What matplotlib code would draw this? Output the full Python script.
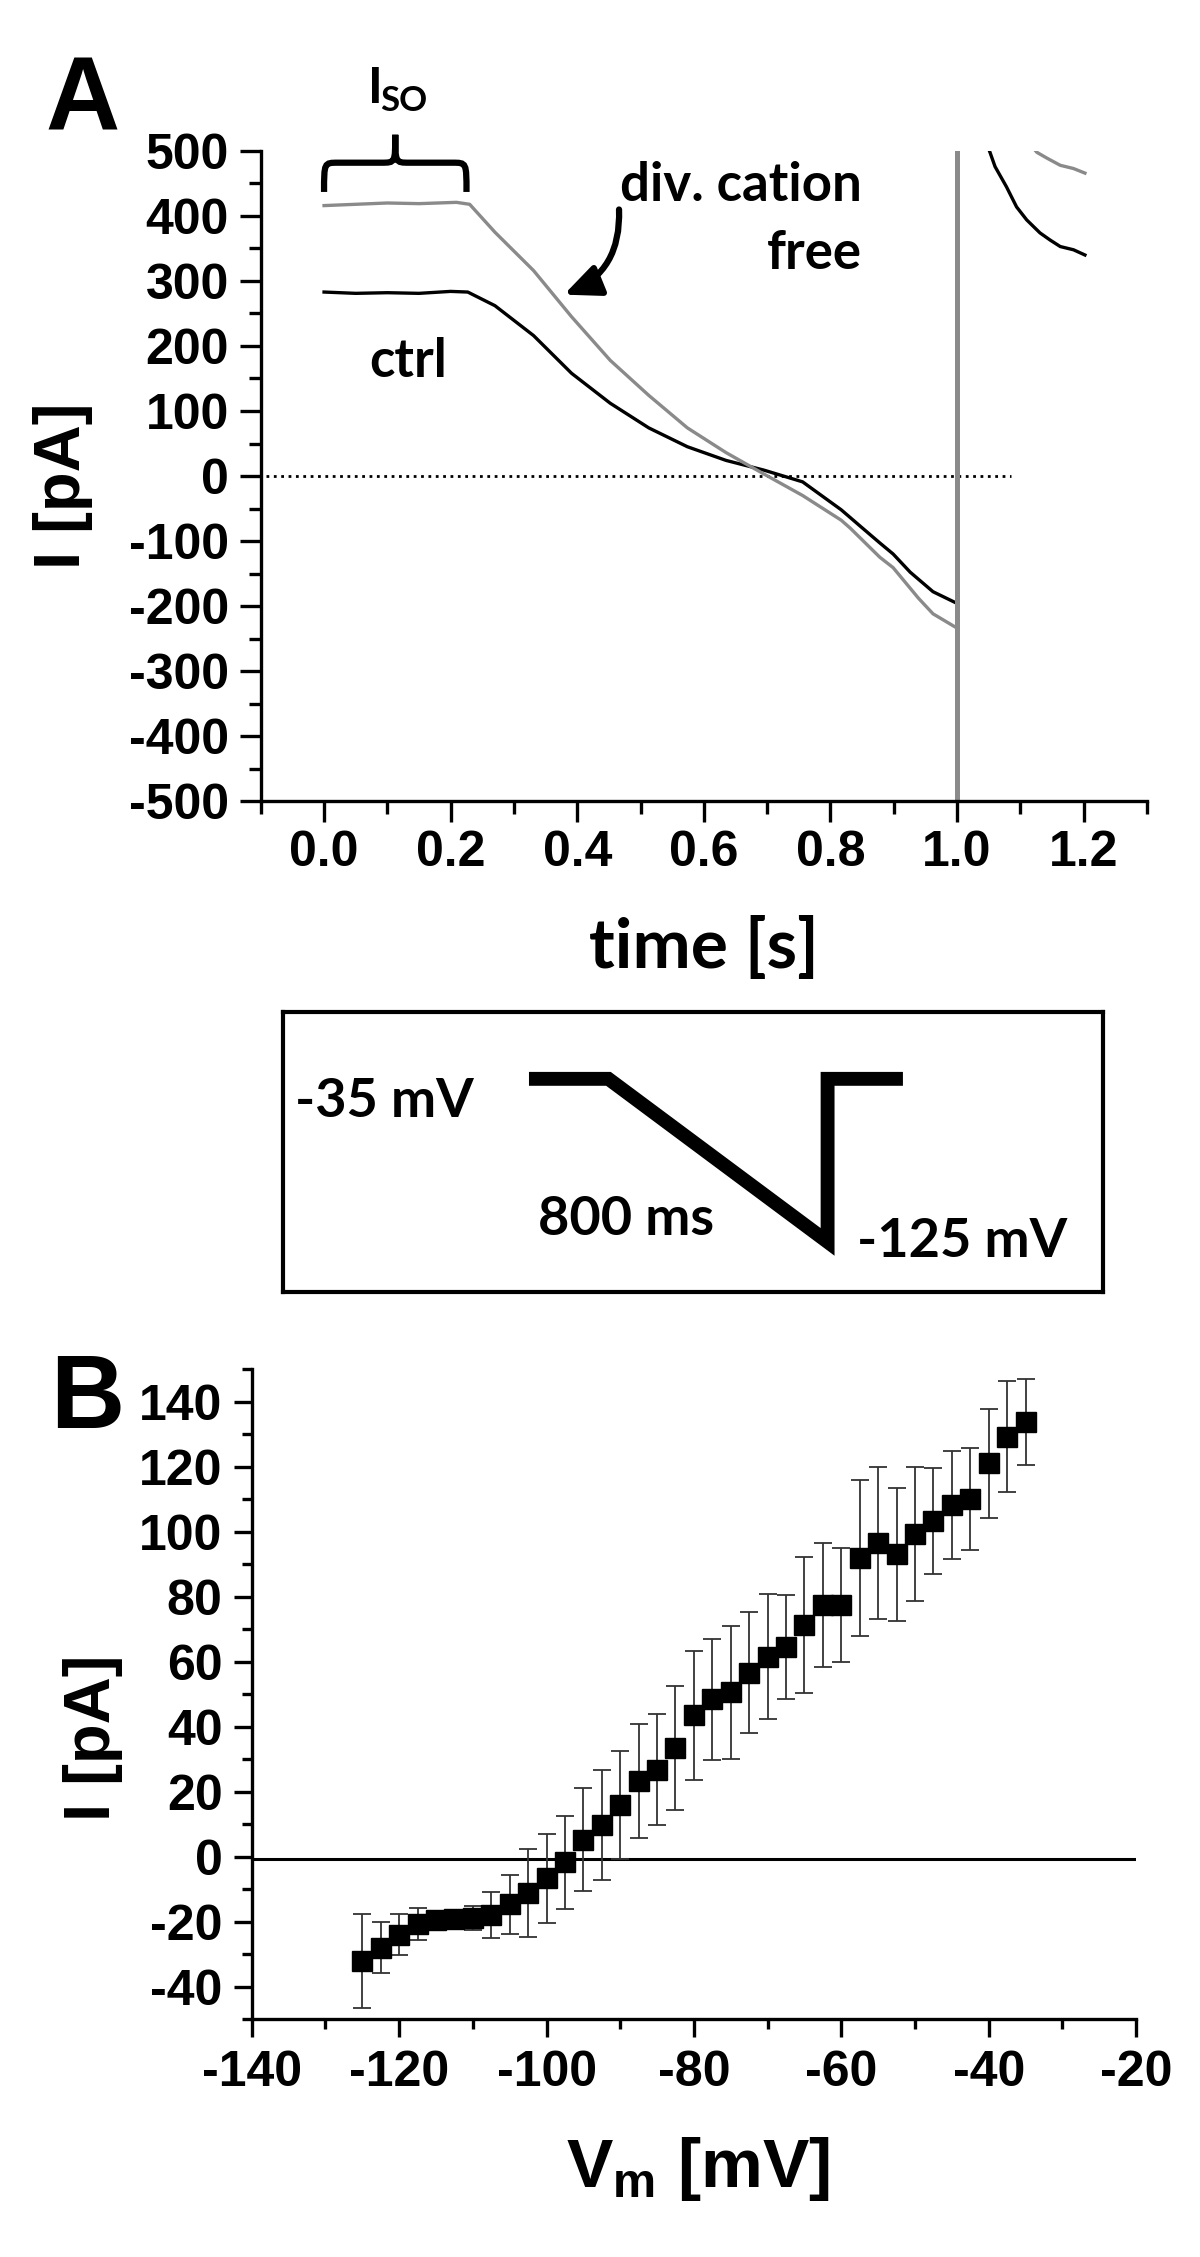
import matplotlib
matplotlib.use("Agg")
import matplotlib.pyplot as plt
from matplotlib.ticker import MultipleLocator, FormatStrFormatter
from matplotlib.path import Path
from matplotlib.patches import PathPatch

plt.rcParams["font.family"] = ["Liberation Sans", "DejaVu Sans"]
plt.rcParams["font.weight"] = "bold"
plt.rcParams["axes.unicode_minus"] = False
plt.rcParams["mathtext.fontset"] = "custom"
plt.rcParams["mathtext.rm"] = "Liberation Sans:bold"
plt.rcParams["mathtext.it"] = "Liberation Sans:bold"

# ---- panel A: ramp currents (time in s, current in pA)
t_ctrl = [0.0, 0.05, 0.10, 0.15, 0.20, 0.227, 0.27, 0.331, 0.391, 0.452, 0.513,
          0.574, 0.635, 0.695, 0.756, 0.817, 0.848, 0.878, 0.899, 0.926, 0.962, 1.0]
i_ctrl = [283, 281, 282, 281, 284, 283, 262, 216, 158, 112, 74,
          45, 24, 9, -9, -52, -78, -103, -120, -148, -178, -196]

t_free = [0.0, 0.05, 0.10, 0.15, 0.209, 0.23, 0.27, 0.331, 0.391, 0.452, 0.513,
          0.574, 0.635, 0.695, 0.756, 0.817, 0.831, 0.878, 0.899, 0.939, 0.962, 1.0]
i_free = [416, 418, 420, 419, 421, 418, 375, 316, 245, 178, 124,
          74, 36, 3, -30, -68, -80, -125, -141, -188, -212, -234]

# after the step back to -35 mV
t_ctrl_tail = [1.045, 1.052, 1.060, 1.078, 1.094, 1.110, 1.131, 1.147, 1.163, 1.184, 1.202]
i_ctrl_tail = [515, 498, 476, 445, 414, 394, 374, 363, 353, 348, 340]
t_free_tail = [1.12, 1.126, 1.142, 1.163, 1.184, 1.202]
i_free_tail = [505, 498, 489, 478, 473, 466]

step_time = 1.0
iso_window = (0.0, 0.225)

# ---- voltage protocol (schematic, ms / mV)
prot_t = [0, 290, 1090, 1090, 1365]
prot_v = [-35, -35, -125, -35, -35]

# ---- panel B: I-V relation
vm = [-125, -122.5, -120, -117.5, -115, -112.5, -110, -107.5, -105, -102.5,
      -100, -97.5, -95, -92.5, -90, -87.5, -85, -82.5, -80, -77.5,
      -75, -72.5, -70, -67.5, -65, -62.5, -60, -57.5, -55, -52.5,
      -50, -47.5, -45, -42.5, -40, -37.5, -35]
i_mean = [-32.2, -28.0, -24.1, -20.7, -19.5, -19.3, -19.0, -18.0, -14.7, -11.3,
          -6.6, -1.8, 5.2, 9.7, 15.9, 23.2, 26.8, 33.4, 43.5, 48.4,
          50.5, 56.6, 61.5, 64.4, 71.3, 77.4, 77.4, 91.8, 96.6, 93.0,
          99.3, 103.3, 108.2, 110.0, 121.0, 129.2, 133.8]
i_err = [14.5, 7.9, 6.3, 4.9, 1.5, 1.5, 3.7, 7.0, 9.0, 13.5,
         13.7, 14.2, 15.8, 17.0, 16.5, 17.6, 17.2, 19.2, 19.8, 18.7,
         20.6, 18.6, 19.3, 16.0, 21.0, 19.0, 17.6, 24.0, 23.4, 20.5,
         20.7, 16.4, 16.6, 15.6, 16.7, 17.0, 13.3]
zero_level = -0.8

GREY = "#8a8a8a"
TICK_FS = 36
LATO = ["Lato", "DejaVu Sans"]

fig = plt.figure(figsize=(12, 22.57), dpi=100)


def style_axes(ax, major_len, minor_len):
    for s in ["top", "right"]:
        ax.spines[s].set_visible(False)
    for s in ["left", "bottom"]:
        ax.spines[s].set_linewidth(2.4)
    ax.tick_params(which="major", direction="out", length=major_len, width=2.4,
                   labelsize=TICK_FS)
    ax.tick_params(which="minor", direction="out", length=minor_len, width=2.4)
    for lab in ax.get_xticklabels() + ax.get_yticklabels():
        lab.set_fontweight("bold")


# ================= panel A
axA = fig.add_axes([0.2173, 0.6451, 0.7385, 0.2880])
axA.plot([-0.092, 1.085], [0, 0], ls=":", color="black", lw=2.0)
axA.plot(t_ctrl, i_ctrl, color="black", lw=2.4)
axA.plot(t_free, i_free, color=GREY, lw=2.4)
axA.plot(t_ctrl_tail, i_ctrl_tail, color="black", lw=2.4)
axA.plot(t_free_tail, i_free_tail, color=GREY, lw=2.4)
axA.axvline(step_time, color=GREY, lw=3.6)
axA.set_xlim(-0.1, 1.3)
axA.set_ylim(-500, 500)
axA.xaxis.set_major_locator(MultipleLocator(0.2))
axA.xaxis.set_minor_locator(MultipleLocator(0.1))
axA.xaxis.set_major_formatter(FormatStrFormatter("%.1f"))
axA.yaxis.set_major_locator(MultipleLocator(100))
axA.yaxis.set_minor_locator(MultipleLocator(50))
style_axes(axA, 15, 9)
axA.tick_params(axis="y", pad=8)
axA.tick_params(axis="x", pad=6)

# I_SO brace
x0, x1 = iso_window
xm = (x0 + x1) / 2
yb, yh, yt = 437, 482, 525
r = 0.022
verts = [(x0, yb), (x0, yh), (x0, yh), (x0 + r, yh),
         (xm - r, yh),
         (xm, yh), (xm, yh), (xm, yt),
         (xm, yh), (xm, yh), (xm + r, yh),
         (x1 - r, yh),
         (x1, yh), (x1, yh), (x1, yb)]
codes = [Path.MOVETO, Path.CURVE4, Path.CURVE4, Path.CURVE4,
         Path.LINETO,
         Path.CURVE4, Path.CURVE4, Path.CURVE4,
         Path.CURVE4, Path.CURVE4, Path.CURVE4,
         Path.LINETO,
         Path.CURVE4, Path.CURVE4, Path.CURVE4]
axA.add_patch(PathPatch(Path(verts, codes), fill=False, lw=4.5, color="black",
                        clip_on=False, capstyle="butt"))
axA.text(0.0695, 574, "I", fontsize=36, family=LATO, fontweight="bold",
         ha="left", va="baseline", clip_on=False)
axA.text(0.0885, 561, "SO", fontsize=25, family=LATO, fontweight="bold",
         ha="left", va="baseline", clip_on=False)

axA.text(0.85, 423, "div. cation", fontsize=38, family=LATO, fontweight="bold",
         ha="right", va="baseline")
axA.text(0.85, 318, "free", fontsize=38, family=LATO, fontweight="bold",
         ha="right", va="baseline")
axA.text(0.133, 152, "ctrl", fontsize=38, family=LATO, fontweight="bold",
         ha="center", va="baseline")
axA.annotate("", xy=(0.379, 279), xytext=(0.466, 410),
             arrowprops=dict(arrowstyle="-|>,head_length=0.9,head_width=0.4",
                             connectionstyle="arc3,rad=-0.35", color="black",
                             lw=4.5, mutation_scale=24, shrinkA=0, shrinkB=0))

fig.text(45 / 1200, 1 - 130 / 2257, "A", fontsize=74, fontweight="bold",
         ha="left", va="baseline")
fig.text(63 / 1200, 1 - 486 / 2257, "I [pA]", fontsize=47, fontweight="bold",
         rotation=90, ha="center", va="center")
fig.text(704 / 1200, 1 - 968 / 2257, "time [s]", fontsize=50, family=LATO,
         fontweight="bold", ha="center", va="baseline")

# ================= protocol box
axP = fig.add_axes([0.2358, 0.4276, 0.6833, 0.1241])
axP.plot(prot_t, prot_v, color="black", lw=10, solid_joinstyle="miter",
         solid_capstyle="butt")
axP.set_xlim(-898, 2095)
axP.set_ylim(-152.6, 2.0)
axP.set_xticks([])
axP.set_yticks([])
for s in axP.spines.values():
    s.set_linewidth(3)
axP.text(-854, -56, "-35 mV", fontsize=39, family=LATO, fontweight="bold",
         ha="left", va="baseline")
axP.text(33, -121, "800 ms", fontsize=39, family=LATO, fontweight="bold",
         ha="left", va="baseline")
axP.text(1197, -133.3, "-125 mV", fontsize=39, family=LATO, fontweight="bold",
         ha="left", va="baseline")

# ================= panel B
axB = fig.add_axes([0.2098, 0.1054, 0.7369, 0.2880])
axB.axhline(zero_level, color="black", lw=2.2, zorder=1)
axB.errorbar(vm, i_mean, yerr=i_err, fmt="s", ms=14.5, color="black",
             ecolor="#333333", elinewidth=1.3, capsize=6.5, capthick=1.3,
             zorder=3)
axB.set_xlim(-140, -20)
axB.set_ylim(-50, 150)
axB.xaxis.set_major_locator(MultipleLocator(20))
axB.xaxis.set_minor_locator(MultipleLocator(10))
axB.yaxis.set_major_locator(MultipleLocator(20))
axB.yaxis.set_minor_locator(MultipleLocator(10))
axB.set_yticks(range(-40, 141, 20))
style_axes(axB, 13, 7)
axB.tick_params(axis="y", pad=8)
axB.tick_params(axis="x", pad=9)

fig.text(50 / 1200, 1 - 1428 / 2257, "B", fontsize=74, fontweight="bold",
         ha="left", va="baseline")
fig.text(93 / 1200, 1 - 1738 / 2257, "I [pA]", fontsize=47, fontweight="bold",
         rotation=90, ha="center", va="center")
fig.text(698 / 1200, 1 - 2187 / 2257, r"V$_\mathrm{m}$ [mV]", fontsize=50,
         fontweight="bold", ha="center", va="baseline")

fig.savefig("out.png", dpi=100)
